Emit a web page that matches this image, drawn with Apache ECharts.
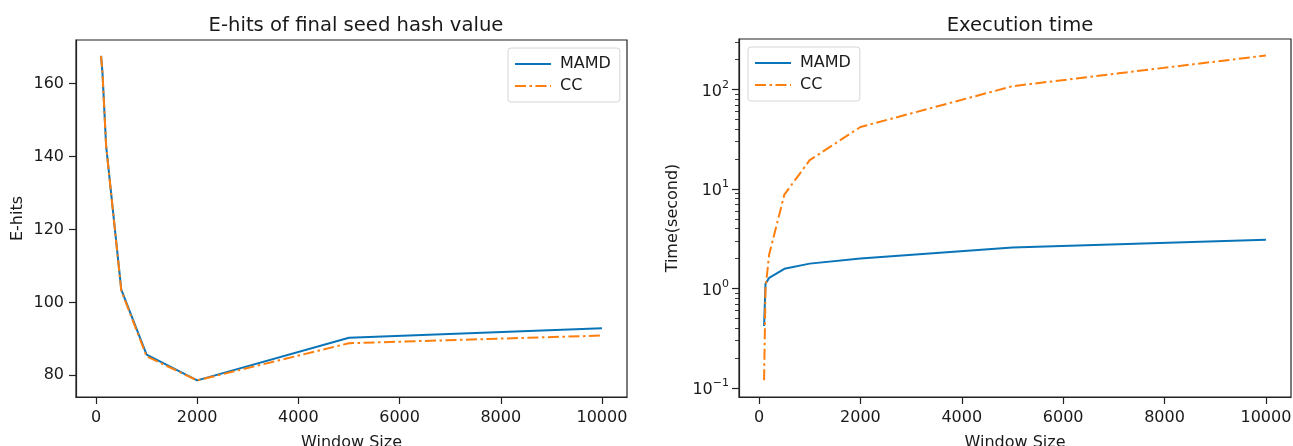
<!DOCTYPE html>
<html>
<head>
<meta charset="utf-8">
<script src="https://cdn.jsdelivr.net/npm/echarts@6/dist/echarts.min.js"></script>
<style>
  html, body { margin: 0; padding: 0; background: #fff; }
  #chart { width: 1293px; height: 446px; }
</style>
</head>
<body>
<div id="chart"></div>
<script>
(function (echarts) {
    'use strict';

    // data
    const windowSizes = [100, 128, 200, 500, 1000, 2000, 5000, 10000];
    const ehitsMAMD = [167.6, 163, 143, 103.5, 85.7, 78.6, 90.3, 92.9];
    const ehitsCC = [167.6, 163, 143, 103.2, 85.2, 78.6, 88.8, 90.9];
    const timeMAMD = [0.42, 1.12, 1.28, 1.58, 1.78, 2.0, 2.58, 3.1];
    const timeCC = [0.12, 1.0, 2.2, 8.8, 19.5, 42, 108, 220];

    const xTicks = [0, 2000, 4000, 6000, 8000, 10000];
    const ehitsTicks = [80, 100, 120, 140, 160];
    const timeTicks = [0.1, 1, 10, 100];
    const timeMinorTicks = [0.2, 0.3, 0.4, 0.5, 0.6, 0.7, 0.8, 0.9,
        2, 3, 4, 5, 6, 7, 8, 9, 20, 30, 40, 50, 60, 70, 80, 90, 200, 300];

    const FONT = 'DejaVu Sans';
    const TEXT = '#1a1a1a';
    const BLUE = '#0a74b8';
    const ORANGE = '#ff7f0e';
    const DASHDOT = [11, 3.5, 2.5, 3.5];
    const LABEL = { fontFamily: FONT, fontSize: 16, color: TEXT };
    const TICK = { color: '#222', width: 1.2 };

    const pairs = (xs, ys) => xs.map((x, i) => [x, ys[i]]);

    const frameLine = { show: true, onZero: false, lineStyle: TICK };

    const xAxis = (gridIndex) => ({
        type: 'value',
        gridIndex: gridIndex,
        min: -395,
        max: 10495,
        name: 'Window Size',
        nameLocation: 'middle',
        nameGap: 38,
        nameTextStyle: LABEL,
        axisLine: frameLine,
        axisTick: { show: true, inside: false, length: 7, customValues: xTicks, lineStyle: TICK },
        axisLabel: Object.assign({ customValues: xTicks, margin: 13, formatter: v => String(v) }, LABEL),
        splitLine: { show: false }
    });

    const supLabel = (v) => {
        const e = Math.round(Math.log10(v));
        return '{b|10}{s|' + (e < 0 ? '\u2212' + (-e) : e) + '}';
    };

    const legendBox = (left, top) => ({
        data: ['MAMD', 'CC'], orient: 'vertical', left: left, top: top,
        itemWidth: 36, itemHeight: 2, itemGap: 6,
        padding: [8, 9, 8, 6],
        itemStyle: { opacity: 0 },
        backgroundColor: '#fff', borderColor: '#d6d6d6', borderWidth: 1, borderRadius: 3,
        textStyle: Object.assign({ padding: [0, 0, 0, 4] }, LABEL)
    });

    const option = {
        animation: false,
        backgroundColor: '#fff',
        title: [
            { text: 'E-hits of final seed hash value', left: 351, top: 11, textAlign: 'center',
              textStyle: { fontFamily: FONT, fontSize: 19.6, fontWeight: 'normal', color: TEXT } },
            { text: 'Execution time', left: 1015, top: 11, textAlign: 'center',
              textStyle: { fontFamily: FONT, fontSize: 19.6, fontWeight: 'normal', color: TEXT } }
        ],
        legend: [legendBox(508, 48), legendBox(748, 47)],
        grid: [
            { left: 76, right: 666, top: 40, bottom: 49, outerBoundsMode: 'none', containLabel: false,
              show: true, borderColor: '#222', borderWidth: 1.2, backgroundColor: 'transparent' },
            { left: 739, right: 2, top: 39, bottom: 49, outerBoundsMode: 'none', containLabel: false,
              show: true, borderColor: '#222', borderWidth: 1.2, backgroundColor: 'transparent' }
        ],
        xAxis: [xAxis(0), xAxis(1)],
        yAxis: [
            {
                type: 'value', gridIndex: 0, position: 'left', min: 74.05, max: 171.95,
                name: 'E-hits', nameLocation: 'middle', nameGap: 50,
                nameTextStyle: LABEL,
                axisLine: frameLine,
                axisTick: { show: true, inside: false, length: 7, customValues: ehitsTicks, lineStyle: TICK },
                axisLabel: Object.assign({ customValues: ehitsTicks, margin: 12 }, LABEL),
                splitLine: { show: false }
            },
            {
                type: 'log', logBase: 10, gridIndex: 1, position: 'left', min: 0.0813, max: 322,
                name: 'Time(second)', nameLocation: 'middle', nameGap: 58,
                nameTextStyle: LABEL,
                axisLine: frameLine,
                axisTick: { show: true, inside: false, length: 7, customValues: timeTicks, lineStyle: TICK },
                axisLabel: {
                    customValues: timeTicks, formatter: supLabel, margin: 10,
                    rich: {
                        b: { fontFamily: FONT, fontSize: 16, color: TEXT, lineHeight: 20, verticalAlign: 'bottom' },
                        s: { fontFamily: FONT, fontSize: 11, color: TEXT, lineHeight: 20, verticalAlign: 'top', padding: [0, 0, 7, 0] }
                    }
                },
                splitLine: { show: false }
            },
            {
                // minor ticks of the log axis
                type: 'log', logBase: 10, gridIndex: 1, position: 'left', min: 0.0813, max: 322,
                axisLine: { show: false, onZero: false },
                axisTick: { show: true, inside: false, length: 4, customValues: timeMinorTicks, lineStyle: { color: '#222', width: 0.9 } },
                axisLabel: { show: false },
                splitLine: { show: false }
            }
        ],
        series: [
            { name: 'MAMD', type: 'line', xAxisIndex: 0, yAxisIndex: 0, symbol: 'none',
              data: pairs(windowSizes, ehitsMAMD), color: BLUE, lineStyle: { color: BLUE, width: 2 } },
            { name: 'CC', type: 'line', xAxisIndex: 0, yAxisIndex: 0, symbol: 'none',
              data: pairs(windowSizes, ehitsCC), color: ORANGE, lineStyle: { color: ORANGE, width: 2, type: DASHDOT } },
            { name: 'MAMD', type: 'line', xAxisIndex: 1, yAxisIndex: 1, symbol: 'none',
              data: pairs(windowSizes, timeMAMD), color: BLUE, lineStyle: { color: BLUE, width: 2 } },
            { name: 'CC', type: 'line', xAxisIndex: 1, yAxisIndex: 1, symbol: 'none',
              data: pairs(windowSizes, timeCC), color: ORANGE, lineStyle: { color: ORANGE, width: 2, type: DASHDOT } }
        ]
    };

    const chart = echarts.init(document.getElementById('chart'), null, { renderer: 'canvas' });
    chart.setOption(option);
})(echarts);
</script>
</body>
</html>
